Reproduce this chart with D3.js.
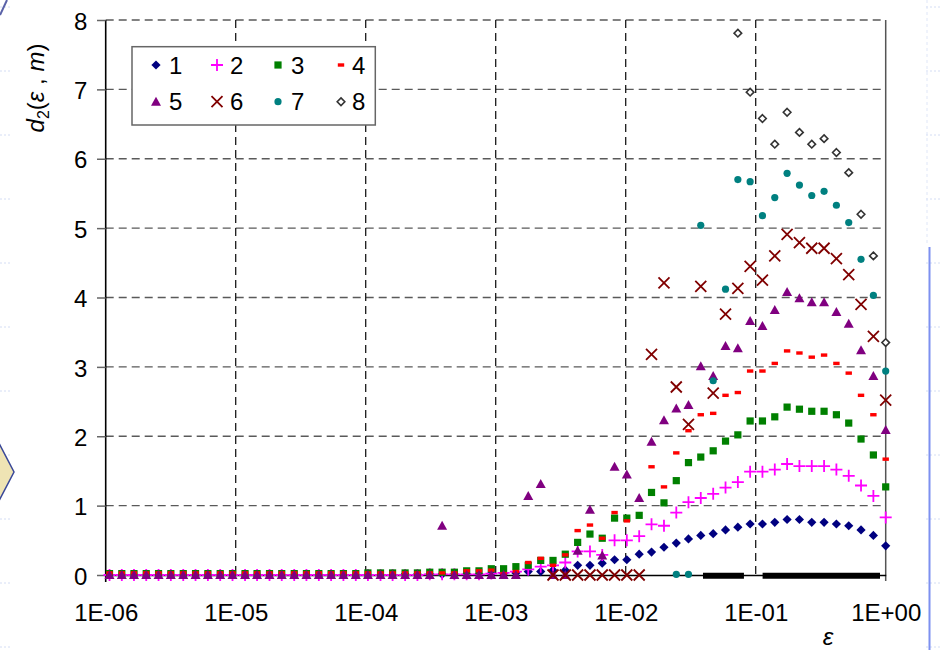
<!DOCTYPE html>
<html>
<head>
<meta charset="utf-8">
<script src="https://cdn.jsdelivr.net/npm/d3@7"></script>
<style>
  html, body { margin: 0; padding: 0; background: #fff; }
  svg { display: block; font-family: "Liberation Sans", Arial, sans-serif; }
</style>
</head>
<body>
<svg id="chart" width="941" height="650"></svg>
<script>
// ε values (descending), shared by all series
const eps = [1, 0.804, 0.646, 0.5195, 0.4176, 0.3357, 0.2699, 0.2170, 0.1744, 0.1402,
  0.1127, 0.0906, 0.0729, 0.0586, 0.0471, 0.0378, 0.0304, 0.0245, 0.0197, 0.0158,
  0.0127, 0.0102, 0.00821, 0.00660, 0.00531, 0.00427, 0.00343, 0.00276, 0.00222, 0.00178,
  0.00143, 0.00115, 0.000925, 0.000744, 0.000598, 0.000481, 0.000387, 0.000311, 0.000250, 0.000201,
  0.000161, 0.000130, 0.000104, 8.39e-5, 6.74e-5, 5.42e-5, 4.36e-5, 3.50e-5, 2.82e-5, 2.26e-5,
  1.82e-5, 1.46e-5, 1.18e-5, 9.45e-6, 7.60e-6, 6.11e-6, 4.91e-6, 3.95e-6, 3.17e-6, 2.55e-6,
  2.05e-6, 1.65e-6, 1.33e-6, 1.07e-6];

const s1 = [0.42,0.57,0.65,0.71,0.735,0.76,0.76,0.80,0.80,0.76,
  0.735,0.735,0.69,0.65,0.595,0.57,0.52,0.46,0.40,0.33,
  0.30,0.22,0.22,0.17,0.14,0.14,0.07,0.07,0.05,0.05,
  0.03,0.02,0.02,0.01,0.01,0.01,0.01,0.01,0.01,0.01,
  0,0,0,0,0,0,0,0,0,0,
  0,0,0,0,0,0,0,0,0,0,
  0,0,0,0];
const s2 = [0.83,1.14,1.29,1.43,1.52,1.57,1.57,1.57,1.60,1.52,
  1.49,1.49,1.34,1.26,1.17,1.11,1.05,0.90,0.71,0.73,
  0.56,0.50,0.50,0.29,0.34,0.34,0.18,0.14,0.12,0.08,
  0.05,0.03,0.02,0.01,0.01,0.01,0.01,0.01,0,0,
  0,0,0,0,0,0,0,0,0,0,
  0,0,0,0,0,0,0,0,0,0,
  0,0,0,0];
const s3 = [1.27,1.73,1.96,2.19,2.31,2.36,2.36,2.39,2.42,2.28,
  2.22,2.22,2.02,1.93,1.79,1.70,1.62,1.36,1.04,1.19,
  0.86,0.82,0.82,0.53,0.59,0.47,0.30,0.21,0.21,0.14,
  0.12,0.09,0.09,0.06,0.06,0.04,0.04,0.04,0.03,0.03,
  0.03,0.03,0.03,0.02,0.02,0.02,0.02,0.02,0.02,0.02,
  0.02,0.02,0.02,0.02,0.02,0.02,0.02,0.02,0.02,0.02,
  0.02,0.02,0.02,0.02];
const s4 = [1.67,2.31,2.59,2.91,3.05,3.17,3.14,3.20,3.23,3.05,
  2.94,2.94,2.63,2.59,2.33,2.31,2.08,1.76,1.27,1.56,
  null,0.78,0.90,0.53,0.72,0.64,0.29,0.14,0.24,0.18,
  0.05,0.02,0.07,0.06,0.06,0.03,0.03,0.03,0.03,0.03,
  0.03,0.03,0.03,0.03,0.03,0.03,0.03,0.03,0.03,0.03,
  0.03,0.03,0.03,0.03,0.03,0.03,0.03,0.03,0.03,0.03,
  0.03,0.03,0.03,0.03];
const s5 = [2.09,2.87,3.24,3.62,3.79,3.93,3.93,3.99,4.08,3.82,
  3.59,3.66,3.27,3.30,2.87,3.01,2.45,2.40,2.23,1.92,
  1.11,1.45,1.56,0.28,0.94,0.35,0,0,1.31,1.14,
  0,0,0,0,0,0,0.71,0,0,0,
  0,0,0,0,0,0,0,0,0,0,
  0,0,0,0,0,0,0,0,0,0,
  0,0,0,0];
const s6 = [2.52,3.44,3.90,4.33,4.56,4.71,4.71,4.79,4.91,4.60,
  4.25,4.45,4.13,3.76,2.62,4.16,2.17,2.71,4.21,3.18,
  0,0,0,0,0,0,0,0];
const s7 = [2.94,4.03,4.55,5.08,5.33,5.53,5.47,5.62,5.79,5.44,
  5.18,5.67,5.70,4.12,2.80,5.04,0.01,0.01];
const s8 = [3.35,4.60,5.20,5.80,6.09,6.29,6.21,6.38,6.67,6.21,
  6.58,6.96,7.81];

// thick black segments lying on the zero line
const zeroBands = [[0.0393, 0.0812], [0.113, 0.904]];

const seriesNames = ["1","2","3","4","5","6","7","8"];
const seriesValues = [s1, s2, s3, s4, s5, s6, s7, s8];
const seriesColors = ["#000080","#ff00ff","#008000","#ff0000","#800080","#800000","#008080","#333333"];
const seriesShapes = ["diamond","plus","square","dash","triangle","cross","circle","openDiamond"];

const xTicks = [1e-6, 1e-5, 1e-4, 1e-3, 1e-2, 1e-1, 1];
const yTicks = [0,1,2,3,4,5,6,7,8];

const svg = d3.select("#chart");

// ---------- slide decorations ----------
const deco = svg.append("g");
[7, 71, 135, 199, 263, 327, 391, 455, 519, 583, 647].forEach(yy => {
  deco.append("line").attr("x1", 0).attr("x2", 12).attr("y1", yy).attr("y2", yy)
    .attr("stroke", "#d4ddf4").attr("stroke-width", 1).attr("stroke-dasharray", "2,2");
  deco.append("line").attr("x1", 926).attr("x2", 941).attr("y1", yy).attr("y2", yy)
    .attr("stroke", "#d4ddf4").attr("stroke-width", 1).attr("stroke-dasharray", "2,2");
});
deco.append("line").attr("x1", 927).attr("x2", 927).attr("y1", 0).attr("y2", 245)
  .attr("stroke", "#dfe6f7").attr("stroke-width", 1).attr("stroke-dasharray", "3,3");
deco.append("line").attr("x1", 0).attr("y1", 15).attr("x2", 7).attr("y2", 0)
  .attr("stroke", "#5a62a8").attr("stroke-width", 2);
deco.append("polygon").attr("points", "-10,426 14,472 -10,518")
  .attr("fill", "#efe4b4").attr("stroke", "#3a4898").attr("stroke-width", 1.5);
deco.append("line").attr("x1", 929.5).attr("x2", 929.5).attr("y1", 247).attr("y2", 650)
  .attr("stroke", "#7d90f0").attr("stroke-width", 2);

// ---------- scales ----------
const x = d3.scaleLog().domain([1e-6, 1]).range([105.7, 885.7]);
const y = d3.scaleLinear().domain([0, 8]).range([575, 20]);

// ---------- grid ----------
const grid = svg.append("g");
grid.selectAll(".hg").data(yTicks.filter(v => v > 0)).join("line")
  .attr("x1", x(1e-6)).attr("x2", x(1)).attr("y1", d => y(d)).attr("y2", d => y(d))
  .attr("stroke", "#5a5a5a").attr("stroke-width", 1.3).attr("stroke-dasharray", "8,5");
grid.selectAll(".vg").data(xTicks.slice(1, -1)).join("line")
  .attr("x1", d => x(d)).attr("x2", d => x(d)).attr("y1", y(8)).attr("y2", y(0))
  .attr("stroke", "#1a1a1a").attr("stroke-width", 1.3).attr("stroke-dasharray", "8,5");
// right border
grid.append("line").attr("x1", x(1)).attr("x2", x(1)).attr("y1", y(8)).attr("y2", y(0) + 6)
  .attr("stroke", "#555").attr("stroke-width", 1.5);

// ---------- axes ----------
function fmtE(d) {
  const e = Math.round(Math.log10(d));
  return "1E" + (e < 0 ? "-" : "+") + String(Math.abs(e)).padStart(2, "0");
}
const xAxis = svg.append("g").attr("transform", `translate(0,${y(0)})`)
  .call(d3.axisBottom(x).tickValues(xTicks).tickFormat(fmtE).tickSize(0).tickPadding(29));
xAxis.select(".domain").attr("stroke", "#000").attr("stroke-width", 1.6);
xAxis.selectAll("text").attr("font-size", 24).attr("fill", "#000")
  .attr("font-family", "'Liberation Sans', Arial, sans-serif");

const yAxis = svg.append("g").attr("transform", `translate(${x(1e-6)},0)`)
  .call(d3.axisLeft(y).tickValues(yTicks).tickFormat(d3.format("d")).tickSize(8.7).tickPadding(9.7));
yAxis.select(".domain").attr("d", `M0,${y(8)}V${y(0) + 7}`).attr("stroke", "#000").attr("stroke-width", 1.6);
yAxis.selectAll(".tick line").attr("stroke", "#666").attr("stroke-width", 1.5);
yAxis.selectAll("text").attr("font-size", 24).attr("fill", "#000").attr("dy", "0.38em")
  .attr("font-family", "'Liberation Sans', Arial, sans-serif");

// axis titles
const yt = svg.append("text")
  .attr("transform", "translate(44,88) rotate(-90)")
  .attr("text-anchor", "middle").attr("font-size", 24).attr("fill", "#000");
yt.append("tspan").attr("font-style", "italic").text("d");
yt.append("tspan").attr("font-size", 16).attr("dy", 5).text("2");
yt.append("tspan").attr("dy", -5).text("(");
yt.append("tspan").attr("font-style", "italic").text("ε");
yt.append("tspan").text(" , ");
yt.append("tspan").attr("font-style", "italic").text("m");
yt.append("tspan").text(")");

svg.append("text").attr("x", 828).attr("y", 645).attr("text-anchor", "middle")
  .attr("font-size", 24).attr("font-style", "italic").attr("fill", "#000").text("ε");

// ---------- zero bands ----------
svg.append("g").selectAll("line").data(zeroBands).join("line")
  .attr("x1", d => x(d[0])).attr("x2", d => x(d[1]))
  .attr("y1", y(0) + 0.7).attr("y2", y(0) + 0.7)
  .attr("stroke", "#000").attr("stroke-width", 6);

// ---------- markers ----------
function drawMarker(g, shape, color) {
  switch (shape) {
    case "diamond":
      g.append("path").attr("d", "M0,-4.6L4.6,0L0,4.6L-4.6,0Z").attr("fill", color); break;
    case "openDiamond":
      g.append("path").attr("d", "M0,-3.8L3.8,0L0,3.8L-3.8,0Z").attr("fill", "#fff")
        .attr("stroke", color).attr("stroke-width", 1.6); break;
    case "square":
      g.append("rect").attr("x", -3.6).attr("y", -3.6).attr("width", 7.2).attr("height", 7.2).attr("fill", color); break;
    case "triangle":
      g.append("path").attr("d", "M0,-5L5,4L-5,4Z").attr("fill", color); break;
    case "circle":
      g.append("circle").attr("r", 3.6).attr("fill", color); break;
    case "dash":
      g.append("rect").attr("x", -3.2).attr("y", -1.7).attr("width", 6.4).attr("height", 3.4).attr("fill", color); break;
    case "plus":
      g.append("path").attr("d", "M-6,0H6M0,-6V6").attr("stroke", color).attr("stroke-width", 1.8).attr("fill", "none"); break;
    case "cross":
      g.append("path").attr("d", "M-5.5,-5.5L5.5,5.5M-5.5,5.5L5.5,-5.5").attr("stroke", color).attr("stroke-width", 1.8).attr("fill", "none"); break;
  }
}

const marks = svg.append("g");
seriesValues.forEach((vals, si) => {
  const pts = vals.map((v, i) => ({ e: eps[i], v })).filter(p => p.v !== null && p.v !== undefined);
  const g = marks.append("g").attr("class", "series s" + (si + 1));
  g.selectAll("g").data(pts).join("g")
    .attr("transform", d => `translate(${x(d.e)},${y(d.v)})`)
    .each(function () { drawMarker(d3.select(this), seriesShapes[si], seriesColors[si]); });
});

// ---------- legend ----------
const lg = svg.append("g");
lg.append("rect").attr("x", 132).attr("y", 46.7).attr("width", 243.3).attr("height", 78.3)
  .attr("fill", "#fff").attr("stroke", "#666").attr("stroke-width", 1.5);
const colMarkX = [156, 217, 278, 341];
const colTextX = [169, 230, 291, 352];
const rowY = [65, 101.7];
seriesNames.forEach((name, i) => {
  const r = Math.floor(i / 4), c = i % 4;
  const g = lg.append("g").attr("transform", `translate(${colMarkX[c]},${rowY[r]})`);
  drawMarker(g, seriesShapes[i], seriesColors[i]);
  lg.append("text").attr("x", colTextX[c]).attr("y", rowY[r] + 8.5)
    .attr("font-size", 24).attr("fill", "#000").text(name);
});
</script>
</body>
</html>
